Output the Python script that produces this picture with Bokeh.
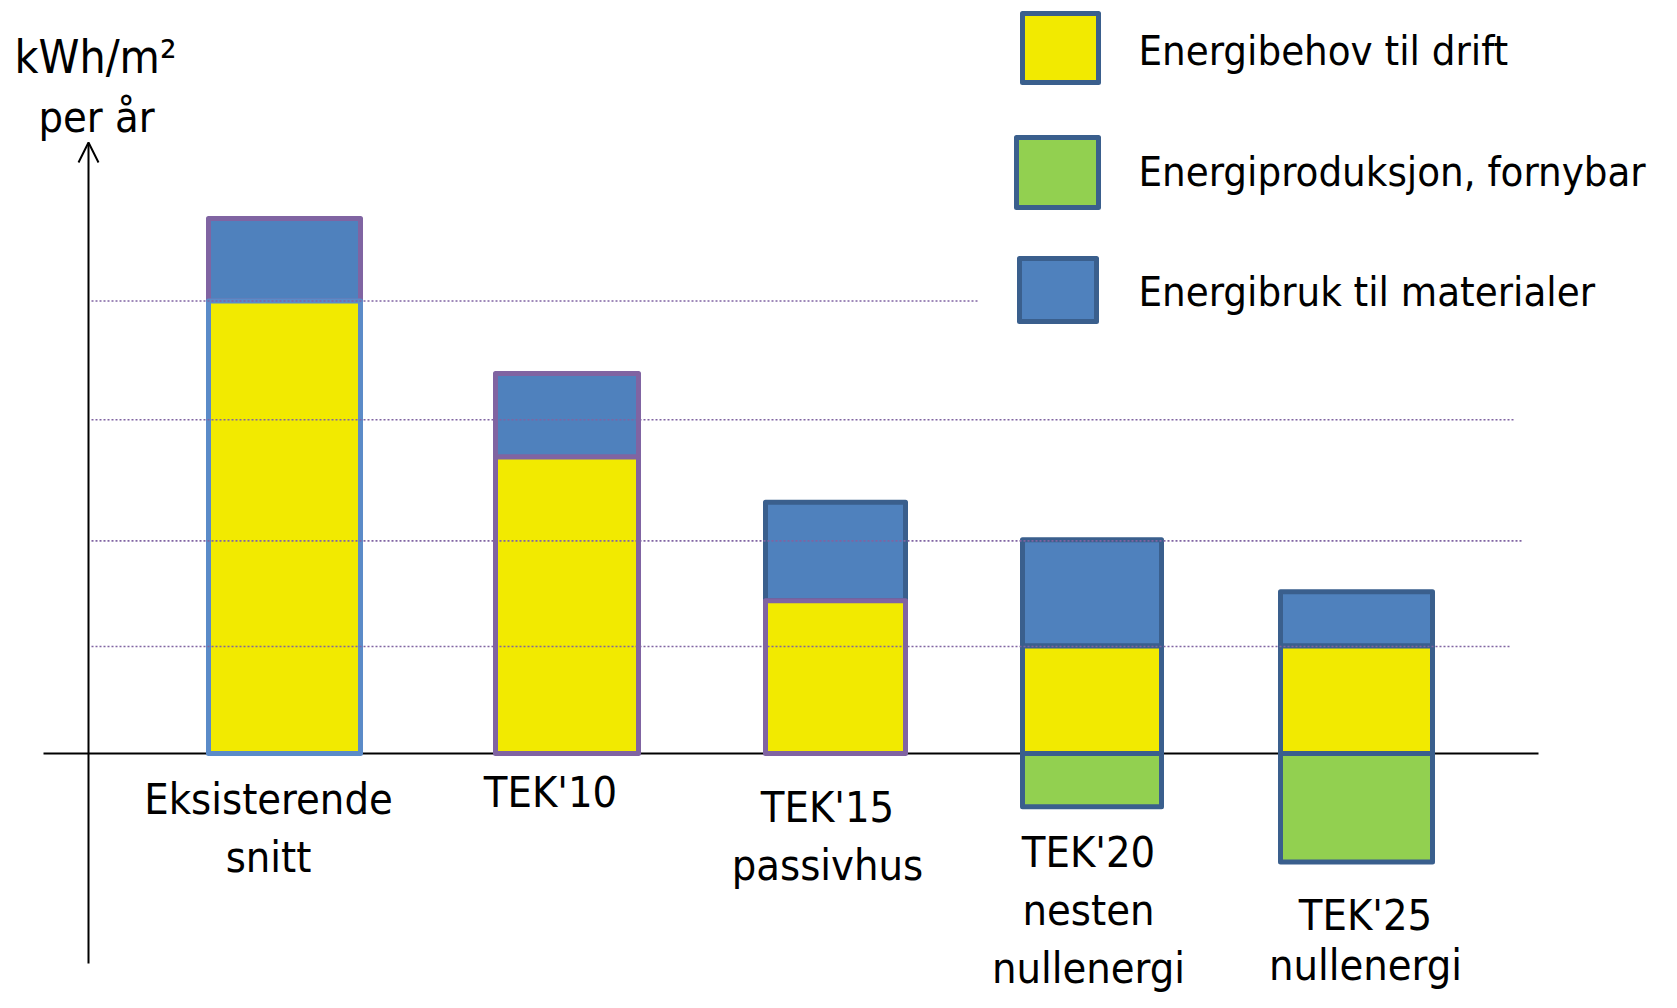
from bokeh.plotting import figure
from bokeh.models import Range1d, Arrow, OpenHead, Label
from bokeh.embed import file_html
from bokeh.resources import INLINE

# ---- data (kWh/m² per år) ----
categories = [["Eksisterende", "snitt"], ["TEK'10"], ["TEK'15", "passivhus"],
              ["TEK'20", "nesten", "nullenergi"], ["TEK'25", "nullenergi"]]
drift = [200, 131, 67.5, 47.5, 47.5]          # Energibehov til drift
materialer = [36.5, 37, 43.5, 47, 24]          # Energibruk til materialer
produksjon = [0, 0, 0, -23.5, -48]             # Energiproduksjon, fornybar
gridlevels = [200, 147.5, 94, 47.3]
legend_labels = ["Energibehov til drift", "Energiproduksjon, fornybar", "Energibruk til materialer"]

# ---- layout / style ----
W, H = 1661, 992
BASE = 753.0          # picture y of zero line
K = 2.2625            # pixels per unit
def py(page_y):
    return (BASE - page_y) / K

bar_x0 = [208, 495, 765, 1022, 1280]
bar_x1 = [360, 638, 905, 1161, 1432]
grid_x1 = [979, 1513, 1523, 1510]

YELLOW = "#F2EA00"
BLUE = "#4F81BD"
GREEN = "#92D050"
DARK = "#3A5F8D"
PURPLE = "#8064A2"
LIGHTB = "#5B8BC8"
edge_mat = [PURPLE, PURPLE, DARK, DARK, DARK]
edge_drift = [LIGHTB, PURPLE, PURPLE, DARK, DARK]
FONT = "DejaVu Sans Condensed, Liberation Sans Narrow, Liberation Sans"
FS = "43px"

p = figure(width=W, height=H, output_backend="svg", toolbar_location=None,
           x_range=Range1d(0, W), y_range=Range1d(py(H), py(0)),
           min_border=0)
p.axis.visible = False
p.grid.visible = False
p.outline_line_color = None
p.background_fill_color = "white"

# zero line
p.line([43, 1538], [0, 0], line_color="black", line_width=2)

# bars
tops = [d + m for d, m in zip(drift, materialer)]
p.quad(left=bar_x0, right=bar_x1, bottom=drift, top=tops, fill_color=BLUE,
       line_color=edge_mat, line_width=5, line_join="round")
p.quad(left=bar_x0, right=bar_x1, bottom=[0] * 5, top=drift, fill_color=YELLOW,
       line_color=edge_drift, line_width=5, line_join="round")
gx0 = [a for a, v in zip(bar_x0, produksjon) if v < 0]
gx1 = [b for b, v in zip(bar_x1, produksjon) if v < 0]
gv = [v for v in produksjon if v < 0]
p.quad(left=gx0, right=gx1, bottom=gv, top=[0] * len(gv), fill_color=GREEN,
       line_color=DARK, line_width=5, line_join="round")

# dotted grid lines (drawn on top)
for lv, x1 in zip(gridlevels, grid_x1):
    p.line([91, x1], [lv, lv], line_color=PURPLE, line_width=1.6, line_dash="2 2")

# y axis arrow
p.add_layout(Arrow(end=OpenHead(size=20, line_width=2, line_color="black"),
                   x_start=88, y_start=py(963), x_end=88, y_end=py(142),
                   line_color="black", line_width=2))

# axis label
p.add_layout(Label(x=95, y=py(56), text="kWh/m²", text_font=FONT, text_font_size="46px",
                   text_align="center", text_baseline="middle", text_color="black"))
p.add_layout(Label(x=96, y=py(116), text="per år", text_font=FONT, text_font_size=FS,
                   text_align="center", text_baseline="middle", text_color="black"))

# category labels
cx = [268, 550, 827, 1088, 1365]
first_y = [798, 791, 806, 851, 914]
gaps = [58, 58, 58, 58, 50]
for c, x, y0, g in zip(categories, cx, first_y, gaps):
    for i, t in enumerate(c):
        p.add_layout(Label(x=x, y=py(y0 + g * i), text=t, text_font=FONT,
                           text_font_size=FS, text_align="center",
                           text_baseline="middle", text_color="black"))

# legend
leg_fill = [YELLOW, GREEN, BLUE]
leg_x0 = [1022, 1016, 1019]
leg_x1 = [1098, 1098, 1096]
leg_y0 = [13, 137, 258]
leg_y1 = [82, 207, 321]
p.quad(left=leg_x0, right=leg_x1, top=[py(v) for v in leg_y0],
       bottom=[py(v) for v in leg_y1], fill_color=leg_fill, line_color=DARK,
       line_width=5, line_join="round")
leg_ty = [50, 171, 291]
for t, y in zip(legend_labels, leg_ty):
    p.add_layout(Label(x=1138, y=py(y), text=t, text_font=FONT, text_font_size="41.5px",
                       text_align="left", text_baseline="middle", text_color="black"))

open("out.html", "w").write(file_html(p, INLINE))
